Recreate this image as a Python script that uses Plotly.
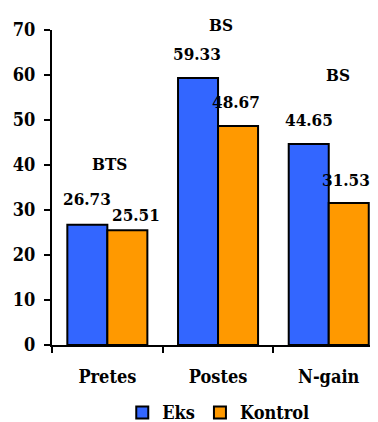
import plotly.graph_objects as go

categories = ["Pretes", "Postes", "N-gain"]
eks = [26.73, 59.33, 44.65]
kontrol = [25.51, 48.67, 31.53]
sig_labels = ["BTS", "BS", "BS"]

FONT = "DejaVu Serif Condensed, DejaVu Serif"
BLUE = "#3366FF"
ORANGE = "#FF9900"
SIZE = 18

# label placement (pixel offsets from bar tops / category centres)
eks_off = [(-20, 26), (-21, 24), (-20, 24)]
kon_off = [(29, 15), (18, 24), (17, 23)]
sig_pos = [(2, 40.2, 0), (3, 68.0, 14), (9, 60.0, 0)]

fig = go.Figure()
fig.add_trace(go.Bar(x=categories, y=eks, name="<b>Eks</b>",
                     marker=dict(color=BLUE, line=dict(color="black", width=2))))
fig.add_trace(go.Bar(x=categories, y=kontrol, name="<b>Kontrol</b>",
                     marker=dict(color=ORANGE, line=dict(color="black", width=2))))

tf = dict(family=FONT, size=SIZE, color="black")
af = dict(family=FONT, size=17, color="black")
ann = []
for i, c in enumerate(categories):
    ann.append(dict(x=c, y=eks[i], text=f"<b>{eks[i]:.2f}</b>", xshift=eks_off[i][0], yshift=eks_off[i][1],
                    showarrow=False, font=af))
    ann.append(dict(x=c, y=kontrol[i], text=f"<b>{kontrol[i]:.2f}</b>", xshift=kon_off[i][0], yshift=kon_off[i][1],
                    showarrow=False, font=af))
    ann.append(dict(x=c, y=sig_pos[i][1], text=f"<b>{sig_labels[i]}</b>", xshift=sig_pos[i][0],
                    yshift=sig_pos[i][2], showarrow=False, font=af))

fig.update_layout(
    width=370, height=414,
    margin=dict(l=44, r=0, t=22, b=77, autoexpand=False),
    paper_bgcolor="white", plot_bgcolor="white",
    barmode="group", bargap=0.277, bargroupgap=0,
    font=tf,
    annotations=ann,
    legend=dict(orientation="h", x=0.51, xanchor="center", y=-0.215, yanchor="middle",
                font=tf, itemsizing="constant", traceorder="normal", itemwidth=30),
    xaxis=dict(range=[-0.5, 2.445], showline=True, linecolor="black", linewidth=2, automargin=False,
               ticks="outside", tickson="boundaries", ticklen=6, tickwidth=2, tickcolor="black",
               ticklabelstandoff=14, tickvals=categories, ticktext=[f"<b>{c}</b>" for c in categories],
               tickfont=tf, fixedrange=True),
    yaxis=dict(range=[0, 70], dtick=10, showline=True, linecolor="black", linewidth=2, automargin=False,
               ticks="outside", ticklen=6, tickwidth=2, tickcolor="black", showgrid=False, zeroline=False,
               ticklabelstandoff=5, tickprefix="<b>", ticksuffix="</b>", tickfont=tf),
    showlegend=True,
)

fig.write_html("out.html")
